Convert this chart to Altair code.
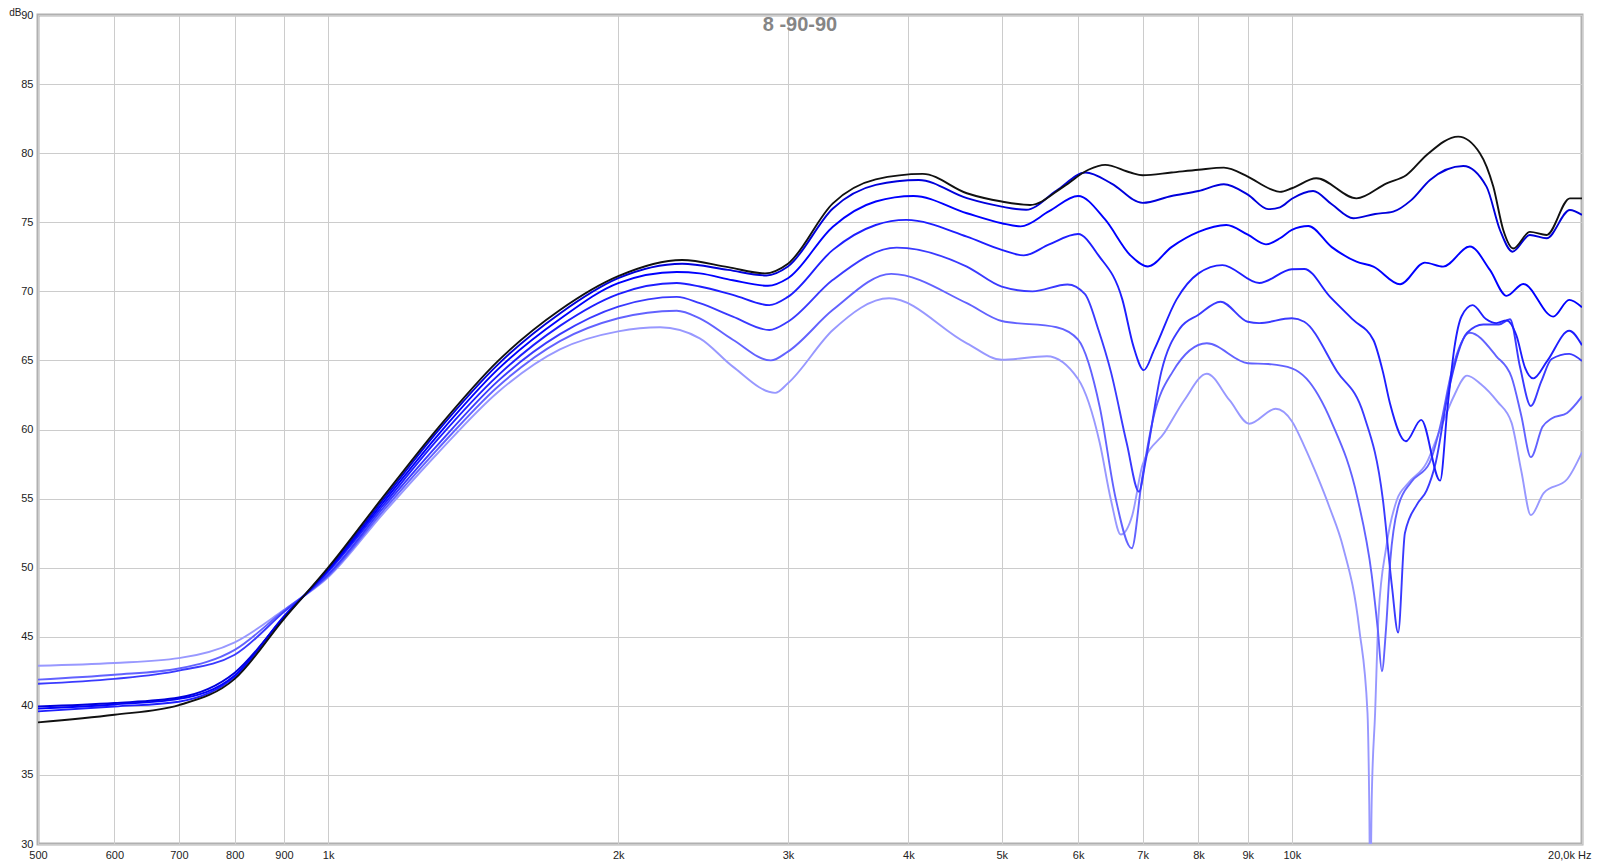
import altair as alt
import pandas as pd

# ---- data (frequency in Hz, level in dB) ----
black_f = [500, 600, 700, 800, 900, 1000, 1140, 1300, 1500, 1740, 2000, 2330, 2600, 2840, 3000, 3340, 3700, 4140, 4600, 5000, 5350, 5800, 6150, 6400, 6800, 7000, 7500, 8000, 8500, 9000, 9500, 9720, 10000, 10600, 11670, 12540, 13150, 13800, 14880, 15670, 16180, 16570, 16970, 17660, 18380, 19430, 20000]
black_db = [38.8, 39.35, 40.05, 41.95, 46.3, 50.0, 55.1, 60.1, 64.95, 68.65, 71.1, 72.27, 71.75, 71.3, 72.0, 76.37, 78.1, 78.5, 77.1, 76.5, 76.25, 77.6, 78.8, 79.15, 78.6, 78.4, 78.6, 78.8, 78.95, 78.3, 77.4, 77.2, 77.46, 78.18, 76.73, 77.82, 78.42, 79.87, 81.2, 80.0, 77.58, 74.44, 73.1, 74.3, 74.08, 76.73, 76.73]

c1_f = [500, 600, 700, 800, 900, 1000, 1140, 1300, 1500, 1740, 2000, 2330, 2600, 2850, 3000, 3340, 3700, 4100, 4600, 5000, 5300, 5700, 6110, 6500, 7000, 7500, 8000, 8500, 9000, 9450, 9720, 10000, 10520, 11000, 11580, 12200, 12740, 13300, 13910, 15060, 15920, 16440, 16940, 17660, 18380, 19430, 20000]
c1_db = [39.95, 40.2, 40.6, 42.4, 46.4, 49.9, 54.9, 59.9, 64.7, 68.4, 70.95, 72.0, 71.55, 71.15, 71.8, 76.0, 77.7, 78.06, 76.74, 76.13, 75.9, 77.3, 78.6, 77.8, 76.4, 76.9, 77.26, 77.75, 77.0, 75.95, 76.08, 76.7, 77.26, 76.3, 75.29, 75.6, 75.77, 76.6, 78.06, 79.07, 77.58, 74.44, 72.87, 74.08, 73.84, 75.89, 75.53]

c2_f = [500, 600, 700, 800, 900, 1000, 1140, 1300, 1500, 1740, 2000, 2300, 2430, 2630, 2860, 3000, 3340, 3700, 4050, 4600, 5000, 5230, 5600, 6000, 6400, 6800, 7090, 7500, 8000, 8550, 9000, 9400, 9720, 10000, 10400, 11000, 11670, 12150, 12950, 13740, 14350, 15300, 16050, 16700, 17380, 18670, 19400, 20000]
c2_db = [39.8, 40.1, 40.5, 42.2, 46.45, 49.8, 54.7, 59.6, 64.35, 68.0, 70.6, 71.4, 71.3, 70.8, 70.4, 70.95, 74.68, 76.5, 76.9, 75.65, 74.93, 74.7, 75.8, 76.9, 75.2, 72.6, 71.8, 73.2, 74.3, 74.8, 74.1, 73.4, 73.84, 74.45, 74.73, 73.2, 72.15, 71.79, 70.51, 72.08, 71.79, 73.24, 71.55, 69.67, 70.53, 68.17, 69.38, 68.84]

c3_f = [500, 600, 700, 800, 900, 1000, 1140, 1300, 1500, 1740, 2000, 2300, 2430, 2630, 2870, 3000, 3340, 3700, 3980, 4600, 5000, 5270, 5600, 6000, 6300, 6670, 6850, 7020, 7200, 7590, 8000, 8470, 9250, 10000, 10300, 10950, 11580, 12150, 12430, 12640, 13130, 13620, 14250, 14500, 14750, 15000, 15400, 15900, 16300, 16700, 17100, 17450, 17800, 18400, 19400, 20000]
c3_db = [39.6, 39.95, 40.3, 42.1, 46.5, 49.7, 54.5, 59.3, 63.9, 67.5, 69.8, 70.6, 70.35, 69.74, 69.0, 69.6, 73.0, 74.8, 75.17, 73.96, 73.0, 72.6, 73.4, 74.15, 72.6, 69.4, 66.0, 64.3, 65.8, 69.4, 71.3, 71.9, 70.6, 71.6, 71.62, 69.62, 67.93, 66.48, 64.17, 61.9, 59.15, 60.7, 56.3, 61.5, 66.0, 68.2, 69.0, 68.0, 67.7, 67.9, 66.8, 64.5, 63.7, 64.95, 67.15, 66.1]

c4_f = [500, 600, 700, 800, 900, 1000, 1140, 1300, 1500, 1740, 2000, 2300, 2430, 2630, 2870, 3000, 3340, 3890, 4600, 5000, 5380, 5850, 6100, 6300, 6490, 6740, 6940, 7050, 7320, 7650, 8000, 8430, 9000, 9250, 10000, 10300, 11140, 11870, 12430, 12700, 12890, 13100, 13490, 13800, 14100, 14510, 15200, 15800, 16400, 16840, 17250, 17700, 18150, 18600, 19400, 20000]
c4_db = [41.6, 41.95, 42.55, 43.7, 46.8, 49.5, 54.3, 58.9, 63.5, 66.9, 68.9, 69.6, 69.14, 68.17, 67.2, 67.8, 70.83, 73.16, 71.79, 70.34, 70.0, 70.5, 69.8, 67.2, 64.17, 59.0, 55.5, 57.7, 64.17, 67.3, 68.3, 69.25, 67.8, 67.7, 68.05, 67.8, 64.2, 61.1, 54.9, 48.66, 45.3, 52.5, 54.6, 55.6, 57.6, 62.5, 67.0, 67.6, 67.6, 67.98, 64.5, 61.7, 63.5, 65.1, 65.47, 64.95]

c5_f = [500, 600, 700, 800, 900, 1000, 1140, 1300, 1500, 1740, 2000, 2300, 2430, 2630, 2880, 3000, 3340, 3840, 4600, 5000, 5700, 6000, 6320, 6560, 6820, 6990, 7180, 7520, 8160, 9000, 9450, 10000, 10350, 11000, 11700, 12100, 12280, 12400, 12520, 12650, 12900, 13300, 13900, 14250, 14650, 15300, 16300, 16900, 17300, 17700, 18200, 18600, 19300, 20000]
c5_db = [41.9, 42.25, 42.7, 44.05, 46.9, 49.4, 54.1, 58.6, 63.1, 66.4, 68.05, 68.6, 68.05, 66.5, 65.0, 65.64, 68.66, 71.26, 69.14, 67.85, 67.4, 66.5, 61.6, 55.1, 51.4, 56.4, 60.8, 64.17, 66.24, 64.8, 64.74, 64.43, 63.7, 60.5, 55.0, 49.5, 45.5, 42.5, 45.5, 50.5, 54.5, 56.2, 57.6, 60.2, 64.2, 67.0, 65.3, 63.8, 61.0, 58.0, 60.2, 60.8, 61.2, 62.4]

c6_f = [500, 600, 700, 800, 900, 1000, 1140, 1300, 1500, 1740, 2000, 2210, 2430, 2630, 2910, 3000, 3340, 3820, 4600, 5000, 5570, 6000, 6320, 6490, 6645, 6830, 7000, 7380, 7730, 8160, 8620, 9030, 9620, 10000, 10300, 10600, 10950, 11300, 11750, 11980, 12030, 12060, 12100, 12200, 12300, 12530, 12850, 13200, 13800, 14250, 14700, 15200, 15700, 16350, 16900, 17300, 17700, 18250, 19300, 20000]
c6_db = [42.9, 43.1, 43.45, 44.6, 46.95, 49.3, 53.9, 58.3, 62.7, 65.8, 67.1, 67.4, 66.6, 64.55, 62.65, 63.35, 67.2, 69.5, 66.24, 65.05, 65.3, 63.65, 59.0, 54.9, 52.4, 53.8, 57.45, 59.8, 62.1, 64.04, 62.1, 60.42, 61.5, 60.6, 58.8, 56.8, 54.3, 51.5, 45.5, 39.5, 33.0, 26.0, 33.0, 39.5, 46.5, 51.5, 54.9, 56.1, 57.6, 60.0, 62.3, 63.9, 63.3, 62.0, 60.5, 57.0, 53.8, 55.4, 56.4, 58.35]

x_ticks = [500, 600, 700, 800, 900, 1000, 2000, 3000, 4000, 5000, 6000, 7000, 8000, 9000, 10000, 20000]
y_ticks = [30, 35, 40, 45, 50, 55, 60, 65, 70, 75, 80, 85, 90]

# drawing order: lightest first, black last
series = [
    ("c6", c6_f, c6_db, "#9898ff"),
    ("c5", c5_f, c5_db, "#6262ff"),
    ("c4", c4_f, c4_db, "#3a3aff"),
    ("c3", c3_f, c3_db, "#1e1eff"),
    ("c2", c2_f, c2_db, "#0000ff"),
    ("c1", c1_f, c1_db, "#0000dc"),
    ("black", black_f, black_db, "#111111"),
]

label_expr = ("datum.value >= 20000 ? '20,0k Hz' : "
              "(datum.value >= 1000 ? format(datum.value / 1000, 'd') + 'k' : format(datum.value, 'd'))")

x_enc = alt.X(
    "f:Q",
    scale=alt.Scale(type="log", domain=[500, 20000], nice=False),
    axis=alt.Axis(values=x_ticks, labelExpr=label_expr, title=None, grid=True,
                  ticks=False, domain=False, labelFlush=False, labelOverlap=False,
                  labelBound=False, labelPadding=5,
                  labelAlign={"condition": {"test": "datum.value >= 20000", "value": "right"}, "value": "center"},
                  labelOffset={"condition": {"test": "datum.value >= 20000", "value": 9}, "value": 0}),
)
y_enc = alt.Y(
    "db:Q",
    scale=alt.Scale(domain=[30, 90], nice=False, zero=False),
    axis=alt.Axis(values=y_ticks, title="dB", titleAngle=0, titleX=-17, titleY=0,
                  titleAlign="right", titleBaseline="alphabetic", titleFontSize=10,
                  titleFontWeight="normal", titleColor="#222222",
                  ticks=False, domain=False, labelPadding=5, grid=True),
)

layers = []
for name, fs, dbs, col in series:
    df = pd.DataFrame({"f": fs, "db": dbs, "s": name})
    layers.append(
        alt.Chart(df).mark_line(interpolate="monotone", clip=True, strokeWidth=1.9, color=col)
        .encode(x=x_enc, y=y_enc)
    )

chart = alt.layer(*layers).properties(
    width=1544,
    height=829,
    padding={"left": 30, "top": 7, "right": 10, "bottom": 20},
    autosize=alt.AutoSizeParams(type="none"),
    title=alt.TitleParams(text="8 -90-90", fontSize=20, fontWeight="bold", color="#858585",
                          font="Liberation Sans", anchor="middle", frame="group",
                          offset=-28, dx=-10),
).configure_view(
    stroke="#b0b0b0", strokeWidth=3
).configure_axis(
    gridColor="#cccccc", gridWidth=1, labelFont="Liberation Sans", labelFontSize=11,
    labelColor="#222222", titleFont="Liberation Sans"
)

chart.save("out.html", embed_options={"renderer": "svg", "actions": False})
